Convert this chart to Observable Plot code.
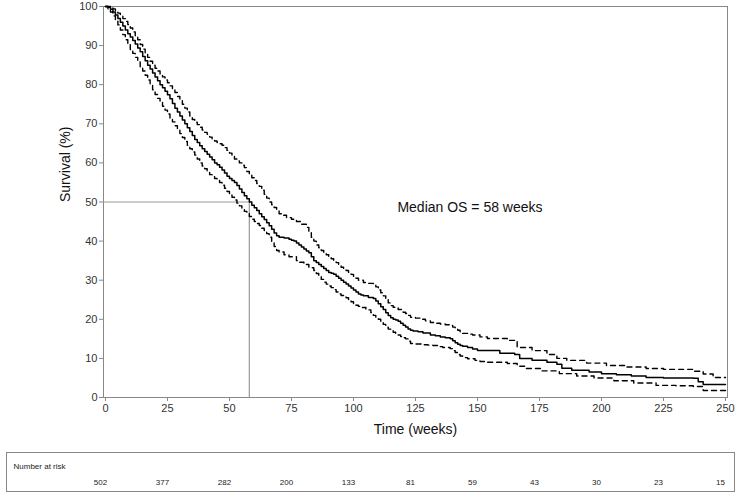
<!DOCTYPE html>
<html>
<head>
<meta charset="utf-8">
<script src="https://cdn.jsdelivr.net/npm/d3@7"></script>
<script src="https://cdn.jsdelivr.net/npm/@observablehq/plot@0.6"></script>
<style>
  body { margin: 0; background: #fff; font-family: "Liberation Sans", Arial, sans-serif; }
  #risk { margin-left: 6px; margin-top: 7px; width: 727px; border: 1px solid #888; box-sizing: content-box; }
</style>
</head>
<body>
<div id="chart"></div>
<div id="risk"></div>
<script>
// Kaplan-Meier estimate (time in weeks, survival %)
const kmTime = [0,1,2,3,4,5,6,7,8,9,10,11,12,13,14,15,16,17,18,19,20,21,22,23,24,25,26,27,28,29,30,31,32,33,34,35,36,37,38,39,40,41,42,43,44,45,46,47,48,49,50,51,52,53,54,55,56,57,58,59,60,61,62,63,64,65,66,67,68,69,70,72,74,75,76,77,78,79,80,81,82,83,84,85,86,87,88,89,90,91,92,93,94,95,96,97,98,99,100,101,102,103,104,106,108,109,110,111,112,113,114,115,116,117,118,119,120,121,122,123,124,126,128,131,133,135,137,139,140,141,142,143,144,146,148,150,157,159,165,167,172,178,182,184,188,195,200,206,212,218,225,237,239,241,250];
const kmSurv = [100,99.8,99.3,98.6,97.8,96.9,96,95,94,93,92.2,91.3,90.4,89.4,88.4,87.2,86.1,85,84,83,82,81,80,79.2,78.3,77.4,76.4,75.2,74,73,72,71,70,69,68,67,66,65.2,64.4,63.6,62.9,62.2,61.5,60.8,60,59.5,58.9,58.2,57.4,56.6,56,55.5,55,54.2,53.3,52.4,51.6,50.8,50,49.2,48.5,47.8,47,46.2,45.5,44.7,43.9,43,42.1,41.4,41,40.8,40.5,40.2,40,39.5,39,38.5,38,37.5,37,36,35,34.5,34,33.5,33,32.5,32,31.8,31.5,31,30.5,30,29.5,29,28.5,28,27.5,27,26.5,26.2,26,25.6,25.3,24.7,24,23.2,22.5,21.7,21,20.4,20,19.8,19.5,19,18.5,18,17.5,17.2,17,16.8,16.5,16,15.8,15.5,15.3,15,14.5,14,13.6,13.3,13.1,12.8,12.4,12,12,11.3,11,10,9.5,9,8.5,7.5,7,6.5,6.1,5.8,5.5,5.1,5,4.9,4,3.3,3.3];

// Upper confidence limit
const upTime = [0,1,2,3,4,5,6,7,8,9,10,11,12,13,14,15,16,17,18,19,20,21,22,23,24,25,26,27,28,29,30,31,32,33,34,35,36,37,38,39,40,41,42,43,44,45,46,47,48,49,50,51,52,53,54,55,56,57,58,59,60,61,62,63,64,65,66,67,68,69,70,71,73,75,77,79,81,82,83,84,85,86,87,88,89,90,91,92,93,94,95,96,97,98,99,100,101,102,104,106,108,109,110,111,112,113,114,115,116,118,120,121,122,123,125,127,129,131,133,135,137,139,140,141,142,143,144,146,148,151,154,158,162,166,172,178,182,186,194,202,210,218,225,237,241,245,250];
const upSurv = [100,100,99.7,99.4,98.9,98.3,97.6,96.9,96.2,95.4,94.5,93.5,92.5,91.5,90.3,89.1,88,87,86,85,84.2,83.5,82.7,82,81.2,80.5,79.7,78.9,78,77,76,75,74,73,72,71.1,70.4,69.8,69.1,68.4,67.8,67.3,66.6,66,65.6,65.2,64.9,64.5,63.9,63.2,62.5,61.8,61,60.5,60,59.4,58.8,57.8,57,56.2,55.5,54.7,54,53,52,51,50,49.3,48.6,47.8,47,46.6,46,45.6,45,44.3,43.5,42.3,41,40,39,38.3,37.6,37,36.5,36,35.5,35,34.5,33.9,33.3,32.9,32.5,32,31.5,31,30.5,30,29.4,29.2,29.1,28.3,27.5,26.8,26,25,24.2,23.5,23.1,22.5,21.8,21.5,21,20.5,20.3,20,19.6,19.2,19,18.8,18.6,18.4,18,17.5,17.2,16.8,16.4,16.2,16,15.5,15.1,15.1,14.6,12.8,12,11,10,9.5,8.8,8.2,7.8,7.4,7.2,6.7,6,5.1,5.1];

// Lower confidence limit
const loTime = [0,1,2,3,4,5,6,7,8,9,10,11,12,13,14,15,16,17,18,19,20,21,22,23,24,25,26,27,28,29,30,31,32,33,34,35,36,37,38,39,40,41,42,43,44,45,46,47,48,49,50,51,52,53,54,55,56,57,58,59,60,61,62,63,64,65,66,67,68,69,70,72,74,77,78,80,82,84,85,86,87,88,89,90,91,92,93,94,95,96,97,98,99,100,101,102,103,105,107,108,109,110,111,112,113,114,115,116,117,118,119,120,121,122,123,125,128,130,132,134,136,139,140,141,142,143,144,146,149,151,154,158,162,166,169,176,183,190,197,205,213,222,230,237,241,250];
const loSurv = [100,99.4,98.6,97.6,96.5,95.3,94,92.8,91.5,90.2,89,88,87,85.8,84.6,83.5,82.4,81.2,80,78.7,77.5,76.5,75.5,74.5,73.5,72.5,71.5,70.5,69.5,68.5,67.5,66.5,65.5,64.5,63.6,62.8,62,61,60,59.2,58.5,57.7,57,56.5,56,55.5,55,54.3,53.5,52.7,52,51.2,50.5,49.7,49,48.3,47.6,47,46.3,45.6,45,44.5,44,43.3,42.7,41.9,41,39.8,38.6,37.6,37.2,36.5,36,35,34.6,34,33.2,32.5,31.7,31,30.2,29.5,29,28.5,28.1,27.6,27,26.5,26.1,25.8,25.5,25,24.5,24,23.6,23.3,23,22.4,21.7,21,20.5,20,19.3,18.7,18,17.5,17.1,16.7,16.3,16,15.6,15.3,15,14.4,13.8,13.7,13.5,13.4,13.3,13,12.8,12.5,12,11.5,11,10.6,10.2,9.9,9.5,9.2,9,9,8.7,8,7.4,6.8,6.1,5.5,5,4.3,3.7,3.1,3,2.8,1.8,1.8];

const riskTimes = [0,25,50,75,100,125,150,175,200,225,250];
const riskCounts = [502,377,282,200,133,81,59,43,30,23,15];

const medianTime = 58;
const medianSurv = 50;
const yTicks = [0,10,20,30,40,50,60,70,80,90,100];

const xDomain = [-0.8, 250.8];
const toRows = (t, s) => t.map((d, i) => ({t: d, s: s[i]}));
const km = toRows(kmTime, kmSurv);
const up = toRows(upTime, upSurv);
const lo = toRows(loTime, loSurv);
const risk = riskTimes.map((d, i) => ({t: d, n: riskCounts[i]}));

const font = "'Liberation Sans', Arial, sans-serif";

const chart = Plot.plot({
  width: 738,
  height: 445,
  marginLeft: 103,
  marginRight: 11,
  marginTop: 6,
  marginBottom: 48,
  style: {fontFamily: font, fontSize: "11px", color: "#333", background: "#fff"},
  x: {domain: xDomain, ticks: riskTimes},
  y: {domain: [0, 100], ticks: yTicks},
  marks: [
    Plot.frame({stroke: "#888"}),
    Plot.axisX({ticks: riskTimes, tickSize: 4, tickPadding: 3, stroke: "#888", fill: "#333", label: null, fontSize: 11}),
    Plot.axisY({ticks: yTicks, tickSize: 4, tickPadding: 2, stroke: "#888", fill: "#333", label: null, fontSize: 11}),
    Plot.ruleY([medianSurv], {x1: xDomain[0], x2: medianTime, stroke: "#999", strokeWidth: 1.2}),
    Plot.ruleX([medianTime], {y1: 0, y2: medianSurv, stroke: "#999", strokeWidth: 1.2}),
    Plot.line(up, {x: "t", y: "s", curve: "step-after", stroke: "#000", strokeWidth: 1.4, strokeDasharray: "5,4"}),
    Plot.line(lo, {x: "t", y: "s", curve: "step-after", stroke: "#000", strokeWidth: 1.4, strokeDasharray: "5,4"}),
    Plot.line(km, {x: "t", y: "s", curve: "step-after", stroke: "#000", strokeWidth: 1.5}),
    Plot.text(["Median OS = 58 weeks"], {x: 117.7, y: 48.6, text: d => d, textAnchor: "start", fontSize: 14, fill: "#111"}),
    Plot.text(["Time (weeks)"], {frameAnchor: "bottom", dy: 36, text: d => d, fontSize: 14, fill: "#111"}),
    Plot.text(["Survival (%)"], {frameAnchor: "left", dx: -38, rotate: -90, text: d => d, fontSize: 14, fill: "#111"})
  ]
});
document.getElementById("chart").appendChild(chart);

const riskPlot = Plot.plot({
  width: 727,
  height: 38,
  marginLeft: 96,
  marginRight: 7,
  marginTop: 0,
  marginBottom: 0,
  style: {fontFamily: "'Liberation Sans Narrow', 'Liberation Sans', Arial, sans-serif", fontSize: "8px", color: "#222", background: "#fff"},
  x: {domain: xDomain, axis: null},
  marks: [
    Plot.text(["Number at risk"], {frameAnchor: "top-left", dx: -90, dy: 10, text: d => d, textAnchor: "start", fontSize: 8}),
    Plot.text(risk, {x: "t", text: "n", frameAnchor: "top", dy: 26, dx: -5, fontSize: 8})
  ]
});
document.getElementById("risk").appendChild(riskPlot);
</script>
</body>
</html>
